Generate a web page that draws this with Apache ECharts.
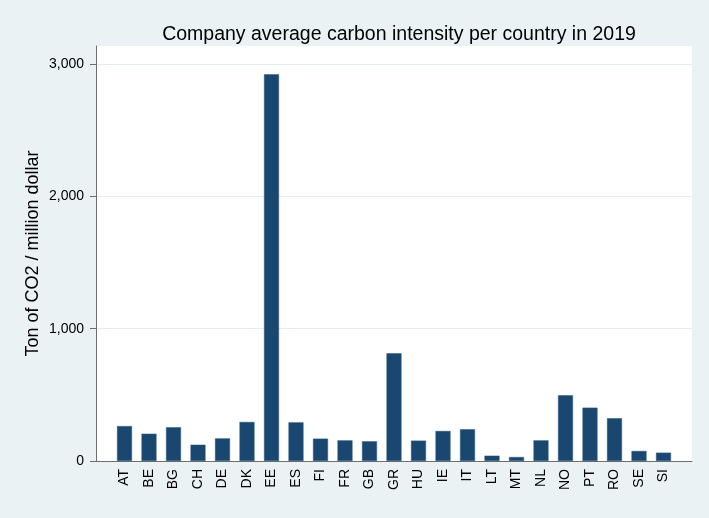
<!DOCTYPE html>
<html>
<head>
<meta charset="utf-8">
<script src="https://cdn.jsdelivr.net/npm/echarts@6/dist/echarts.min.js"></script>
<style>
html,body{margin:0;padding:0;background:#eaf2f3;}
#chart{width:709px;height:518px;}
</style>
</head>
<body>
<div id="chart"></div>
<script>
const titleText = 'Company average carbon intensity per country in 2019';
const yAxisTitle = 'Ton of CO2 / million dollar';
const countries = ['AT','BE','BG','CH','DE','DK','EE','ES','FI','FR','GB','GR','HU','IE','IT','LT','MT','NL','NO','PT','RO','SE','SI'];
const intensity = [264, 206, 255, 123, 171, 295, 2922, 292, 169, 156, 149, 814, 154, 227, 240, 40, 30, 156, 497, 403, 323, 76, 63];
const yTicks = [0, 1000, 2000, 3000];

const FONT = 'Liberation Sans, Arial, Helvetica, sans-serif';
const fmt = v => String(v).replace(/\B(?=(\d{3})+(?!\d))/g, ',');

const chart = echarts.init(document.getElementById('chart'), null, {renderer: 'canvas'});
chart.setOption({
  backgroundColor: '#eaf2f3',
  animation: false,
  title: {
    text: titleText,
    left: 394, top: 20, textAlign: 'center',
    textStyle: {fontFamily: FONT, fontSize: 19.5, fontWeight: 'normal', color: '#000'}
  },
  grid: [
    {left: 96, right: 17, top: 46, bottom: 57, show: true, backgroundColor: '#ffffff', borderWidth: 0},
    {left: 96, right: 17, top: 64, bottom: 57},
    {left: 112.25, right: 33.25, top: 64, bottom: 57}
  ],
  xAxis: [
    {gridIndex: 0, type: 'value', min: 0, max: 1,
     axisLine: {show: true, onZero: false, lineStyle: {color: '#6e6e6e', width: 1}},
     axisTick: {show: false}, axisLabel: {show: false}, splitLine: {show: false}},
    {gridIndex: 1, type: 'value', min: 0, max: 1, show: false},
    {gridIndex: 2, type: 'category', data: countries,
     axisLine: {show: false}, axisTick: {show: false},
     axisLabel: {rotate: 90, margin: 8, fontFamily: FONT, fontSize: 14, color: '#000', interval: 0}}
  ],
  yAxis: [
    {gridIndex: 0, type: 'value', min: 0, max: 1,
     name: yAxisTitle, nameLocation: 'middle', nameGap: 54, nameRotate: 90,
     nameTextStyle: {fontFamily: FONT, fontSize: 18, color: '#000'},
     axisLine: {show: true, lineStyle: {color: '#6e6e6e', width: 1}},
     axisTick: {show: false}, axisLabel: {show: false}, splitLine: {show: false}},
    {gridIndex: 1, type: 'value', min: yTicks[0], max: yTicks[yTicks.length - 1], interval: 1000,
     axisLine: {show: false},
     axisTick: {show: true, length: 6, lineStyle: {color: '#6e6e6e', width: 1}},
     axisLabel: {margin: 12, fontFamily: FONT, fontSize: 14, color: '#000', formatter: fmt},
     splitLine: {show: true, lineStyle: {color: '#e4edf0', width: 1}}},
    {gridIndex: 2, type: 'value', min: yTicks[0], max: yTicks[yTicks.length - 1], show: false}
  ],
  series: [
    {type: 'bar', xAxisIndex: 2, yAxisIndex: 2, data: intensity, barWidth: 15,
     itemStyle: {color: '#1a476f', borderColor: '#2f5a80', borderWidth: 0.5}}
  ]
});
</script>
</body>
</html>
